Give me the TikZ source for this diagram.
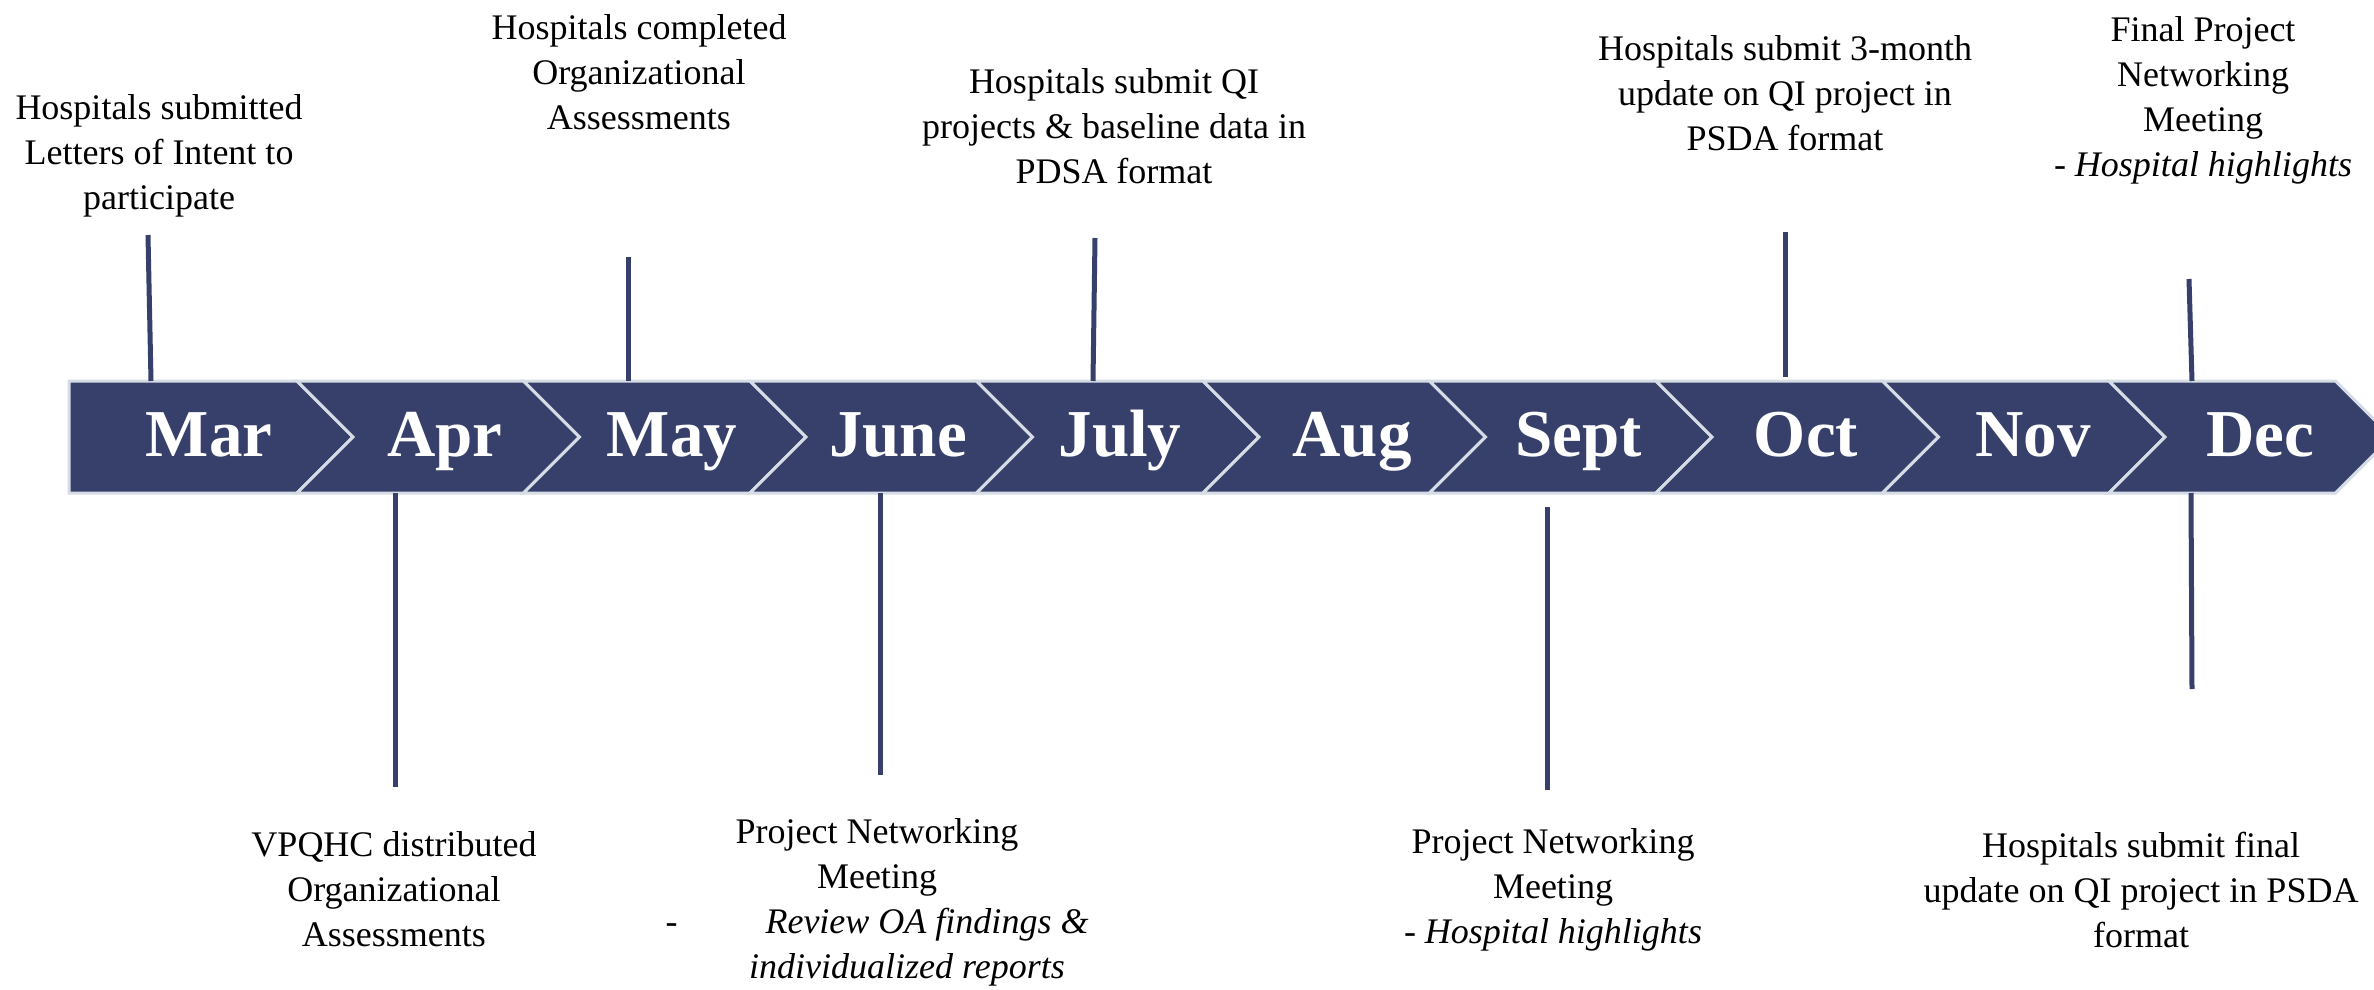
\documentclass[tikz,border=0pt]{standalone}
\usepackage{fontspec}
\setmainfont{Liberation Serif}
\definecolor{navy}{RGB}{54,64,106}
\definecolor{edge}{RGB}{214,220,229}
\begin{document}
\begin{tikzpicture}[x=0.5pt,y=-0.5pt,
  seg/.style={fill=navy,draw=edge,line width=1.5pt,line join=miter},
  month/.style={text=white,font=\fontsize{33.5}{36}\selectfont\bfseries,inner sep=0,anchor=base},
  note/.style={align=center,font=\fontsize{18}{22.5}\selectfont,inner sep=0,text=black},
  tick/.style={draw=navy,line width=2.5pt}]
\useasboundingbox (0,0) rectangle (2374,990);
% band
\path[seg] (69,381) -- (297,381) -- (353,437) -- (297,493) -- (69,493) -- cycle;
\foreach \k in {1,...,9}{
  \pgfmathsetmacro\L{297+226.5*(\k-1)}
  \pgfmathsetmacro\R{\L+226.5}
  \path[seg] (\L,381) -- (\R,381) -- ({\R+56},437) -- (\R,493) -- (\L,493) -- ({\L+56},437) -- cycle;
}
% months
\node[month] (mar) at (209,456) {Mar};
\node[month] (apr) at (445,456) {Apr};
\node[month] (may) at (672,456) {May};
\node[month] (jun) at (898,456) {June};
\node[month] (jul) at (1120,456) {July};
\node[month] (aug) at (1352,456) {Aug};
\node[month] (sep) at (1579,456) {Sept};
\node[month] (oct) at (1806,456) {Oct};
\node[month] (nov) at (2033,456) {Nov};
\node[month] (dec) at (2260,456) {Dec};
% notes above
\node[note] (n1) at (159,156) {Hospitals submitted\\Letters of Intent to\\participate};
\node[note] (n2) at (639,72) {Hospitals completed\\Organizational\\Assessments};
\node[note] (n3) at (1114,126) {Hospitals submit QI\\projects \& baseline data in\\PDSA format};
\node[note] (n4) at (1785,93) {Hospitals submit 3-month\\update on QI project in\\PSDA format};
\node[note] (n5) at (2203,100) {Final Project\\Networking\\Meeting\\- \textit{Hospital highlights}};
% notes below
\node[note] (n6) at (394,889) {VPQHC distributed\\Organizational\\Assessments};
\node[note] (n7) at (877,902) {Project Networking\\Meeting\\-\hspace{44pt}\textit{Review OA findings \&}\\\hspace*{30pt}\textit{individualized reports}};
\node[note] (n8) at (1553,890) {Project Networking\\Meeting\\- \textit{Hospital highlights}};
\node[note] (n9) at (2141,890) {Hospitals submit final\\update on QI project in PSDA\\format};
% tick coordinates
\coordinate (a1) at (148,235); \coordinate (b1) at (151,381);
\coordinate (a2) at (628,257); \coordinate (b2) at (628,381);
\coordinate (a3) at (1095,238); \coordinate (b3) at (1093,381);
\coordinate (a4) at (1785,232); \coordinate (b4) at (1785,377);
\coordinate (a5) at (2189,279); \coordinate (b5) at (2192,381);
\coordinate (a6) at (395,493); \coordinate (b6) at (395,787);
\coordinate (a7) at (880,493); \coordinate (b7) at (880,775);
\coordinate (a8) at (1547,507); \coordinate (b8) at (1547,790);
\coordinate (a9) at (2191,493); \coordinate (b9) at (2192,689);
\foreach \i in {1,...,9}{\draw[tick] (a\i) -- (b\i);}
\end{tikzpicture}
\end{document}
